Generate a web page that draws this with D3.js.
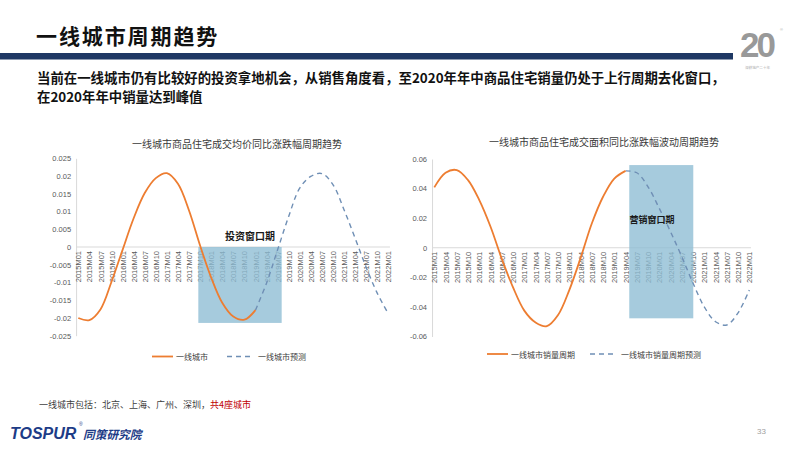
<!DOCTYPE html>
<html>
<head>
<meta charset="utf-8">
<script src="https://cdn.jsdelivr.net/npm/d3@7"></script>
<style>
  body { margin: 0; background: #fff; }
  svg { display: block; }
  text { font-family: "Liberation Sans", "Noto Sans CJK SC", sans-serif; }
  .cjk { font-family: "Noto Sans CJK SC", sans-serif; }
</style>
</head>
<body>
<div id="slide"></div>
<script>
/*    Data    */
/**********************************/
const quarters = [
  "2015M01","2015M04","2015M07","2015M10",
  "2016M01","2016M04","2016M07","2016M10",
  "2017M01","2017M04","2017M07","2017M10",
  "2018M01","2018M04","2018M07","2018M10",
  "2019M01","2019M04","2019M07","2019M10",
  "2020M01","2020M04","2020M07","2020M10",
  "2021M01","2021M04","2021M07","2021M10",
  "2022M01"
];

// left: average price, year on year change
const priceActual = [-0.0200, -0.0206, -0.0176, -0.0098, -0.0008, 0.0081, 0.0152, 0.0194,
                     0.0208, 0.0178, 0.0103, 0.0004, -0.0086, -0.0157, -0.0196, -0.0205, -0.0178];
// forecast starts on the last actual quarter (2019M01)
const priceForecast = [-0.0178, -0.0102, -0.0008, 0.0086, 0.0166, 0.0199, 0.0207,
                       0.0176, 0.0105, 0.0025, -0.0057, -0.0130, -0.0188];
const priceTicks = [0.025, 0.02, 0.015, 0.01, 0.005, 0, -0.005, -0.01, -0.015, -0.02, -0.025];
const priceWindowQ = [10.84, 18.37];      // in quarter steps from 2015M01
const priceWindowV = [0, -0.0214];

// right: floor area sold, year on year change
const volumeActual = [0.0408, 0.0507, 0.0525, 0.0457, 0.0322, 0.0142, -0.0075, -0.0268,
                      -0.0425, -0.0505, -0.0530, -0.0455, -0.0286, -0.0070, 0.0164, 0.0345,
                      0.0468, 0.0520];
// forecast starts on the last actual quarter (2019M04)
const volumeForecast = [0.0520, 0.0507, 0.0412, 0.0266, 0.0108, -0.0061, -0.0240,
                        -0.0400, -0.0500, -0.0522, -0.0440, -0.0286];
const volumeTicks = [0.06, 0.04, 0.02, 0, -0.02, -0.04, -0.06];
const volumeWindowQ = [17.33, 23.02];
const volumeWindowV = [0.0559, -0.0477];


/*    Containers    */
/********************/
const width = 800;
const height = 450;

const svg = d3.select("#slide")
  .append("svg")
    .attr("width", width)
    .attr("height", height)
    .attr("viewBox", `0 0 ${width} ${height}`);

svg.append("rect")
  .attr("width", width)
  .attr("height", height)
  .attr("fill", "#fff");


/*    Header    */
/****************/
svg.append("text")
  .attr("class", "cjk")
  .attr("x", 36)
  .attr("y", 35)
  .attr("dominant-baseline", "central")
  .attr("font-size", 21)
  .attr("font-weight", 700)
  .attr("letter-spacing", 1.9)
  .attr("fill", "#111")
  .text("一线城市周期趋势");

svg.append("rect")
  .attr("x", 0)
  .attr("y", 53)
  .attr("width", 733)
  .attr("height", 6.5)
  .attr("fill", "#1f3864");

const subtitle = [
  "当前在一线城市仍有比较好的投资拿地机会，从销售角度看，至2020年年中商品住宅销量仍处于上行周期去化窗口，",
  "在2020年年中销量达到峰值"
];
svg.selectAll(".subtitle")
  .data(subtitle)
  .join("text")
    .attr("class", "subtitle cjk")
    .attr("x", 37)
    .attr("y", (d, i) => 76.5 + i * 19)
    .attr("dominant-baseline", "central")
    .attr("font-size", 13.4)
    .attr("font-weight", 700)
    .attr("fill", "#111")
    .text(d => d);

// anniversary mark, top right
svg.append("text")
  .attr("x", 740)
  .attr("y", 57)
  .attr("font-size", 35)
  .attr("font-weight", 700)
  .attr("letter-spacing", -3)
  .attr("fill", "#999")
  .text("20");
svg.append("text")
  .attr("x", 780)
  .attr("y", 31)
  .attr("font-size", 4)
  .attr("fill", "#aaa")
  .text("®");
svg.append("text")
  .attr("class", "cjk")
  .attr("x", 745)
  .attr("y", 69)
  .attr("font-size", 3.6)
  .attr("fill", "#aaa")
  .text("深耕地产二十年");


/*    One chart panel    */
/*************************/
const drawPanel = (opt) => {
  const x = d3.scalePoint()
    .domain(quarters)
    .range(opt.xRange);
  const xq = q => opt.xRange[0] + q * x.step();

  const y = d3.scaleLinear()
    .domain(opt.yDomain)
    .range(opt.yRange);

  const g = svg.append("g");

  // title
  g.append("text")
    .attr("class", "cjk")
    .attr("x", opt.titleX)
    .attr("y", opt.titleY)
    .attr("text-anchor", "middle")
    .attr("dominant-baseline", "central")
    .attr("font-size", 10)
    .attr("fill", "#3a3a3a")
    .text(opt.title);

  // y axis
  const yAxis = d3.axisLeft(y)
    .tickValues(opt.ticks)
    .tickSize(0)
    .tickSizeOuter(0)
    .tickPadding(5)
    .tickFormat(d => String(+d.toFixed(3)));

  const yG = g.append("g")
    .attr("transform", `translate(${xq(-0.2)}, 0)`)
    .call(yAxis);
  yG.select(".domain").attr("stroke", "#d9d9d9");
  yG.selectAll("text")
    .attr("font-size", 7.5)
    .attr("fill", "#595959");

  // x axis on the zero line
  const xAxis = d3.axisBottom(x)
    .tickSize(0)
    .tickSizeOuter(0);

  const xG = g.append("g")
    .attr("transform", `translate(0, ${y(0)})`)
    .call(xAxis);
  xG.select(".domain").remove();
  xG.selectAll("text")
    .attr("transform", "rotate(-90)")
    .attr("text-anchor", "end")
    .attr("x", -4)
    .attr("y", 0)
    .attr("dy", "0.35em")
    .attr("font-size", 7.5)
    .attr("fill", "#595959");

  g.append("line")
    .attr("x1", xq(-0.2))
    .attr("x2", xq(quarters.length - 1 + 0.15))
    .attr("y1", y(0))
    .attr("y2", y(0))
    .attr("stroke", "#d9d9d9");

  // window box
  g.append("rect")
    .attr("x", xq(opt.windowQ[0]))
    .attr("width", xq(opt.windowQ[1]) - xq(opt.windowQ[0]))
    .attr("y", y(opt.windowV[0]))
    .attr("height", y(opt.windowV[1]) - y(opt.windowV[0]))
    .attr("fill", "#8dbcd3")
    .attr("opacity", 0.78);

  // lines
  const start = opt.actual.length - 1;
  const line = d3.line()
    .x(d => xq(d.i))
    .y(d => y(d.v))
    .curve(d3.curveCatmullRom.alpha(0.5));

  g.append("path")
    .attr("d", line(opt.forecast.map((v, i) => ({i: i + start, v}))))
    .attr("fill", "none")
    .attr("stroke", "#6f8fb5")
    .attr("stroke-width", 1.4)
    .attr("stroke-dasharray", "5,4");

  g.append("path")
    .attr("d", line(opt.actual.map((v, i) => ({i, v}))))
    .attr("fill", "none")
    .attr("stroke", "#ed7d31")
    .attr("stroke-width", 1.8);

  // window label
  g.append("text")
    .attr("class", "cjk")
    .attr("x", opt.windowLabelX)
    .attr("y", opt.windowLabelY)
    .attr("text-anchor", opt.windowLabelAnchor)
    .attr("dominant-baseline", "central")
    .attr("font-size", opt.windowLabelSize)
    .attr("font-weight", 700)
    .attr("fill", "#1a1a1a")
    .text(opt.windowLabel);

  // legend
  const lg = g.append("g")
    .attr("transform", `translate(0, ${opt.legendY})`);
  lg.append("line")
    .attr("x1", opt.legendX[0]).attr("x2", opt.legendX[0] + 21)
    .attr("stroke", "#ed7d31").attr("stroke-width", 1.8);
  lg.append("text")
    .attr("class", "cjk")
    .attr("x", opt.legendX[0] + 24)
    .attr("dominant-baseline", "central")
    .attr("font-size", 8)
    .attr("fill", "#404040")
    .text(opt.legend[0]);
  lg.append("line")
    .attr("x1", opt.legendX[1]).attr("x2", opt.legendX[1] + 27)
    .attr("stroke", "#6f8fb5").attr("stroke-width", 1.4)
    .attr("stroke-dasharray", "5,4");
  lg.append("text")
    .attr("class", "cjk")
    .attr("x", opt.legendX[1] + 31)
    .attr("dominant-baseline", "central")
    .attr("font-size", 8)
    .attr("fill", "#404040")
    .text(opt.legend[1]);
};

drawPanel({
  title: "一线城市商品住宅成交均价同比涨跌幅周期趋势",
  titleX: 237, titleY: 143,
  xRange: [78.3, 388.3],
  yDomain: [-0.025, 0.025],
  yRange: [335.7, 158.3],
  ticks: priceTicks,
  actual: priceActual,
  forecast: priceForecast,
  windowQ: priceWindowQ,
  windowV: priceWindowV,
  windowLabel: "投资窗口期",
  windowLabelX: 250, windowLabelY: 235, windowLabelAnchor: "middle", windowLabelSize: 10,
  legend: ["一线城市", "一线城市预测"],
  legendX: [152, 227],
  legendY: 356.5
});

drawPanel({
  title: "一线城市商品住宅成交面积同比涨跌幅波动周期趋势",
  titleX: 604, titleY: 141,
  xRange: [434.3, 749.3],
  yDomain: [-0.06, 0.06],
  yRange: [336.5, 159],
  ticks: volumeTicks,
  actual: volumeActual,
  forecast: volumeForecast,
  windowQ: volumeWindowQ,
  windowV: volumeWindowV,
  windowLabel: "营销窗口期",
  windowLabelX: 629.5, windowLabelY: 219.5, windowLabelAnchor: "start", windowLabelSize: 9,
  legend: ["一线城市销量周期", "一线城市销量周期预测"],
  legendX: [487, 590],
  legendY: 354
});


/*    Footer    */
/****************/
const note = svg.append("text")
  .attr("class", "cjk")
  .attr("x", 39)
  .attr("y", 403.5)
  .attr("dominant-baseline", "central")
  .attr("font-size", 9)
  .attr("fill", "#404040");
note.append("tspan").text("一线城市包括：北京、上海、广州、深圳，");
note.append("tspan").attr("fill", "#c00000").text("共4座城市");

svg.append("text")
  .attr("x", 10)
  .attr("y", 433.5)
  .attr("dominant-baseline", "central")
  .attr("font-size", 16)
  .attr("font-weight", 700)
  .attr("font-style", "italic")
  .attr("fill", "#1d3c87")
  .text("TOSPUR");
svg.append("text")
  .attr("x", 79)
  .attr("y", 426)
  .attr("font-size", 5)
  .attr("fill", "#1d3c87")
  .text("®");
svg.append("text")
  .attr("class", "cjk")
  .attr("x", 83)
  .attr("y", 433.5)
  .attr("dominant-baseline", "central")
  .attr("font-size", 11.7)
  .attr("font-weight", 700)
  .attr("font-style", "italic")
  .attr("fill", "#1d3c87")
  .text("同策研究院");

svg.append("text")
  .attr("x", 757)
  .attr("y", 431)
  .attr("dominant-baseline", "central")
  .attr("font-size", 8)
  .attr("fill", "#a0a0a0")
  .text("33");
</script>
</body>
</html>
